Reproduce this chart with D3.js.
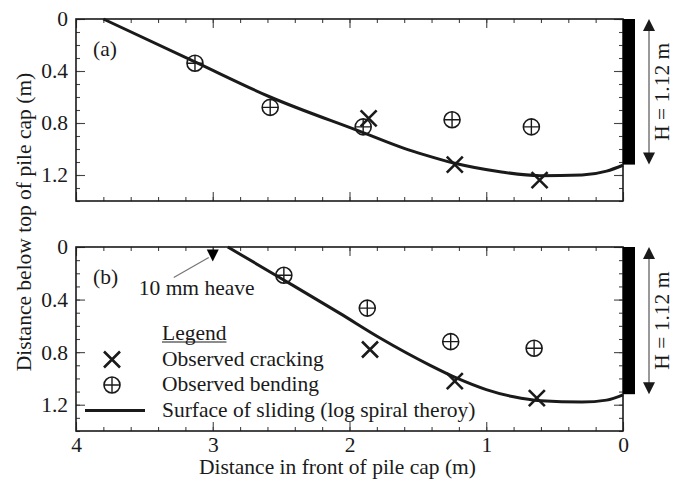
<!DOCTYPE html>
<html>
<head>
<meta charset="utf-8">
<script src="https://cdn.jsdelivr.net/npm/d3@7/dist/d3.min.js"></script>
<style>
  html, body { margin: 0; padding: 0; background: #fff; }
  svg { display: block; }
  text { font-family: "Liberation Serif", "Times New Roman", serif; fill: #1a1a1a; }
</style>
</head>
<body>
<svg id="chart" width="675" height="483"></svg>
<script>
// ---- data (distances in m) ----
const xTickValues = [4, 3, 2, 1, 0];
const yTickValues = [0, 0.4, 0.8, 1.2];
const pileCapHeight = 1.12;

// panel (a)
const crackingA = [[1.86, 0.765], [1.23, 1.12], [0.61, 1.24]];
const bendingA  = [[3.13, 0.34], [2.58, 0.68], [1.90, 0.83], [1.25, 0.775], [0.67, 0.83]];
const slidingA  = [[3.80, 0], [3.13, 0.33], [2.58, 0.60], [1.91, 0.87], [1.60, 0.995], [1.45, 1.045],
                   [1.23, 1.11], [0.90, 1.175], [0.61, 1.205], [0.30, 1.20], [0.12, 1.17], [0, 1.125]];

// panel (b)
const crackingB = [[1.85, 0.78], [1.23, 1.02], [0.63, 1.15]];
const bendingB  = [[2.48, 0.215], [1.87, 0.465], [1.26, 0.72], [0.65, 0.77]];
const slidingB  = [[2.89, 0], [2.49, 0.245], [2.07, 0.505], [1.78, 0.69], [1.41, 0.90],
                   [1.21, 1.00], [1.00, 1.085], [0.80, 1.14], [0.60, 1.17], [0.30, 1.18],
                   [0.12, 1.165], [0, 1.125]];
const heaveB    = [[3.0, 0.065]];

const panelLabels = ["(a)", "(b)"];
const legendItems = ["Observed cracking", "Observed bending", "Surface of sliding (log spiral theroy)"];

// ---- layout ----
const svg = d3.select("#chart");
const ink = "#1a1a1a";
const fontSize = 21.5;
const plotLeft = 76, plotRight = 623;

const x = d3.scaleLinear().domain([4, 0]).range([plotLeft, plotRight]);

const panels = [
  { top: 19,  bottom: 201, label: panelLabels[0], crack: crackingA, bend: bendingA, slide: slidingA, xLabels: false },
  { top: 247, bottom: 431, label: panelLabels[1], crack: crackingB, bend: bendingB, slide: slidingB, xLabels: true }
];

function crossPath(s) {
  return `M${-s},${-s}L${s},${s}M${-s},${s}L${s},${-s}`;
}

function drawBending(g, r) {
  g.append("circle").attr("r", r).attr("fill", "none").attr("stroke", ink).attr("stroke-width", 1.6);
  g.append("path").attr("d", `M${-r},0L${r},0M0,${-r}L0,${r}`).attr("stroke", ink).attr("stroke-width", 1.4);
}

panels.forEach(p => {
  const y = d3.scaleLinear().domain([0, 1.4]).range([p.top, p.bottom]);
  const g = svg.append("g");

  // ticks: major + minor on all four sides, pointing inward
  const minorX = d3.range(0, 4.0001, 0.2).map(v => +v.toFixed(1));
  const minorY = d3.range(0, 1.40001, 0.1).map(v => +v.toFixed(1));

  const tickStyle = sel => {
    sel.select(".domain").remove();
    sel.selectAll(".tick line").attr("stroke", "#444").attr("stroke-width", 1.1);
    sel.selectAll(".tick text").attr("font-size", fontSize).attr("fill", ink)
       .style("font-family", '"Liberation Serif", "Times New Roman", serif');
  };

  g.append("g").attr("transform", `translate(0,${y(1.4)})`)
    .call(d3.axisBottom(x).tickValues(minorX).tickSize(-4).tickFormat("")).call(tickStyle);
  g.append("g").attr("transform", `translate(0,${y(1.4)})`)
    .call(d3.axisBottom(x).tickValues(xTickValues).tickSize(-9).tickPadding(6)
      .tickFormat(p.xLabels ? d3.format("d") : "")).call(tickStyle);
  g.append("g").attr("transform", `translate(0,${y(0)})`)
    .call(d3.axisTop(x).tickValues(minorX).tickSize(-4).tickFormat("")).call(tickStyle);
  g.append("g").attr("transform", `translate(0,${y(0)})`)
    .call(d3.axisTop(x).tickValues(xTickValues).tickSize(-9).tickFormat("")).call(tickStyle);

  g.append("g").attr("transform", `translate(${plotLeft},0)`)
    .call(d3.axisLeft(y).tickValues(minorY).tickSize(-4).tickFormat("")).call(tickStyle);
  g.append("g").attr("transform", `translate(${plotLeft},0)`)
    .call(d3.axisLeft(y).tickValues(yTickValues).tickSize(-9).tickPadding(8)
      .tickFormat(d => d === 0 ? "0" : d3.format(".1f")(d))).call(tickStyle);
  g.append("g").attr("transform", `translate(${plotRight},0)`)
    .call(d3.axisRight(y).tickValues(minorY).tickSize(-4).tickFormat("")).call(tickStyle);
  g.append("g").attr("transform", `translate(${plotRight},0)`)
    .call(d3.axisRight(y).tickValues(yTickValues).tickSize(-9).tickFormat("")).call(tickStyle);

  // frame
  g.append("rect")
    .attr("x", plotLeft).attr("y", y(0))
    .attr("width", plotRight - plotLeft).attr("height", y(1.4) - y(0))
    .attr("fill", "none").attr("stroke", ink).attr("stroke-width", 1.6);

  // panel tag
  g.append("text").attr("x", plotLeft + 17).attr("y", y(0) + 37)
    .attr("font-size", fontSize).text(p.label);

  // surface of sliding
  const line = d3.line().x(d => x(d[0])).y(d => y(d[1])).curve(d3.curveMonotoneX);
  const slideSorted = p.slide.slice().sort((a, b) => a[0] - b[0]);
  g.append("path").datum(slideSorted).attr("d", line)
    .attr("fill", "none").attr("stroke", ink).attr("stroke-width", 3);

  // observed bending
  g.selectAll(".bend").data(p.bend).join("g").attr("class", "bend")
    .attr("transform", d => `translate(${x(d[0])},${y(d[1])})`)
    .each(function () { drawBending(d3.select(this), 8); });

  // observed cracking
  g.selectAll(".crack").data(p.crack).join("path").attr("class", "crack")
    .attr("transform", d => `translate(${x(d[0])},${y(d[1])})`)
    .attr("d", crossPath(8)).attr("stroke", ink).attr("stroke-width", 2.6);

  // pile cap and its height
  const capX = x(0);
  g.append("rect").attr("x", capX).attr("y", y(0))
    .attr("width", 12).attr("height", y(pileCapHeight) - y(0)).attr("fill", "#000");

  const ax = capX + 26;
  g.append("line").attr("x1", ax).attr("x2", ax)
    .attr("y1", y(0) + 8).attr("y2", y(pileCapHeight) - 8)
    .attr("stroke", "#555").attr("stroke-width", 1.2);
  g.append("path").attr("d", `M${ax},${y(0)}L${ax - 6},${y(0) + 12}L${ax + 6},${y(0) + 12}Z`).attr("fill", ink);
  g.append("path").attr("d", `M${ax},${y(pileCapHeight)}L${ax - 6},${y(pileCapHeight) - 12}L${ax + 6},${y(pileCapHeight) - 12}Z`).attr("fill", ink);
  g.append("text")
    .attr("transform", `translate(${capX + 46},${(y(0) + y(pileCapHeight)) / 2}) rotate(-90)`)
    .attr("text-anchor", "middle").attr("font-size", fontSize)
    .text("H = " + pileCapHeight.toFixed(2) + " m");

  if (p.xLabels) {
    // 10 mm heave marker
    heaveB.forEach(d => {
      const hx = x(d[0]), hy = y(d[1]);
      g.append("path").attr("d", `M${hx - 6},${hy - 6}L${hx + 6},${hy - 6}L${hx},${hy + 6}Z`).attr("fill", "#000");
      g.append("line").attr("x1", hx - 4).attr("y1", hy + 2).attr("x2", hx - 39).attr("y2", hy + 22)
        .attr("stroke", "#777").attr("stroke-width", 1.3);
      g.append("text").attr("x", hx - 74).attr("y", hy + 39).attr("font-size", fontSize).text("10 mm heave");
    });

    // legend
    const lg = g.append("g");
    const lx = 162, ly = 340, step = 25.5;
    const title = lg.append("text").attr("x", lx).attr("y", ly).attr("font-size", fontSize).text("Legend");
    const tw = title.node().getComputedTextLength();
    lg.append("line").attr("x1", lx).attr("x2", lx + tw).attr("y1", ly + 2).attr("y2", ly + 2)
      .attr("stroke", ink).attr("stroke-width", 1.2);
    legendItems.forEach((t, i) => {
      lg.append("text").attr("x", lx).attr("y", ly + step * (i + 1)).attr("font-size", fontSize).text(t);
    });
    lg.append("path").attr("transform", `translate(112,${ly + step - 6})`)
      .attr("d", crossPath(8)).attr("stroke", ink).attr("stroke-width", 2.6);
    drawBending(lg.append("g").attr("transform", `translate(112,${ly + step * 2 - 6})`), 8);
    lg.append("line").attr("x1", 85).attr("x2", 145)
      .attr("y1", ly + step * 3 - 6).attr("y2", ly + step * 3 - 6)
      .attr("stroke", ink).attr("stroke-width", 3);
  }
});

// axis titles
svg.append("text").attr("x", (plotLeft + plotRight) / 2 - 12).attr("y", 474)
  .attr("text-anchor", "middle").attr("font-size", fontSize)
  .text("Distance in front of pile cap (m)");
svg.append("text").attr("transform", "translate(31,222) rotate(-90)")
  .attr("text-anchor", "middle").attr("font-size", fontSize)
  .text("Distance below top of pile cap (m)");
</script>
</body>
</html>
